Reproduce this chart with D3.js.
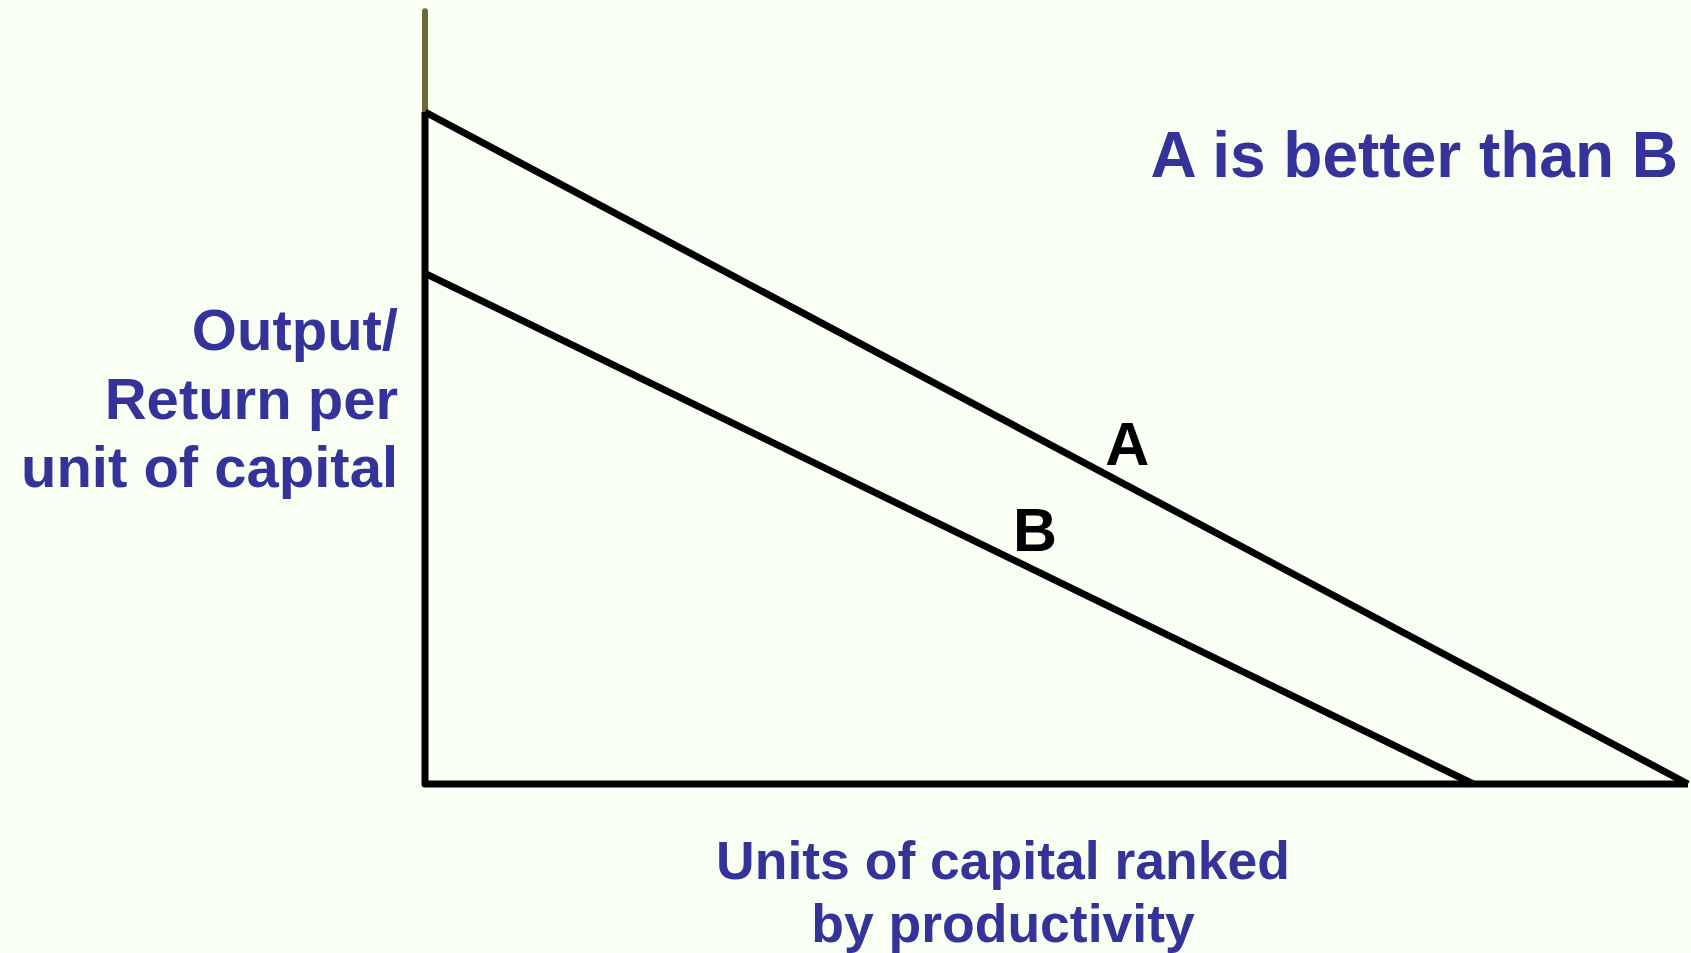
<!DOCTYPE html>
<html lang="en">
    <head>
        <meta charset="utf-8">
        <title>Returns to capital</title>
        <script type="text/javascript" src="https://cdn.jsdelivr.net/npm/d3@7"></script>
        <style type="text/css">
            body {
                margin: 0;
                background-color: #fafff4;
            }
            text {
                font-family: "Liberation Sans", Arial, Helvetica, sans-serif;
                font-weight: bold;
            }
        </style>
    </head>
    <body>
        <script type="text/javascript">
            //Data: two straight return curves, each given as [units of capital, return]
            var curveNames = ["A", "B"];
            var curveA = [[0, 100], [100, 0]];
            var curveB = [[0, 76], [83, 0]];
            var axisTop = 115;   //the vertical axis runs a bit above curve A

            var titleText = "A is better than B";
            var yLabelLines = ["Output/", "Return per", "unit of capital"];
            var xLabelLines = ["Units of capital ranked", "by productivity"];

            //Width and height
            var w = 1691;
            var h = 953;

            //Create scales
            var xScale = d3.scaleLinear()
                           .domain([0, 100])
                           .range([425, 1688]);

            var yScale = d3.scaleLinear()
                           .domain([0, 100])
                           .range([784, 112]);

            //Create SVG element
            var svg = d3.select("body")
                        .append("svg")
                        .attr("width", w)
                        .attr("height", h);

            svg.append("rect")
               .attr("width", w)
               .attr("height", h)
               .attr("fill", "#fafff4");

            var line = d3.line()
                         .x(function(d) { return xScale(d[0]); })
                         .y(function(d) { return yScale(d[1]); });

            //Olive stub at the top of the y axis
            svg.append("line")
               .attr("x1", xScale(0))
               .attr("x2", xScale(0))
               .attr("y1", yScale(axisTop))
               .attr("y2", yScale(100))
               .attr("stroke", "#6b6b3a")
               .attr("stroke-width", 6)
               .attr("stroke-linecap", "round");

            //Axes as one path: up the y axis, corner, along the x axis
            svg.append("path")
               .attr("d", line([[0, 100], [0, 0], [100, 0]]))
               .attr("fill", "none")
               .attr("stroke", "black")
               .attr("stroke-width", 7)
               .attr("stroke-linejoin", "round");

            //Curves
            svg.selectAll("path.curve")
               .data([curveA, curveB])
               .enter()
               .append("path")
               .attr("class", "curve")
               .attr("d", line)
               .attr("fill", "none")
               .attr("stroke", "black")
               .attr("stroke-width", 7);

            //Curve labels
            var labelPos = [[55.6, 47.5], [48.3, 34.6]];
            svg.selectAll("text.curve-label")
               .data(curveNames)
               .enter()
               .append("text")
               .attr("class", "curve-label")
               .attr("x", function(d, i) { return xScale(labelPos[i][0]); })
               .attr("y", function(d, i) { return yScale(labelPos[i][1]); })
               .attr("text-anchor", "middle")
               .attr("font-size", "61px")
               .attr("fill", "black")
               .text(function(d) { return d; });

            //Title
            svg.append("text")
               .attr("x", 1678)
               .attr("y", 177)
               .attr("text-anchor", "end")
               .attr("font-size", "64px")
               .attr("fill", "#333399")
               .text(titleText);

            //Y label
            svg.append("text")
               .attr("text-anchor", "end")
               .attr("font-size", "58px")
               .attr("fill", "#333399")
               .selectAll("tspan")
               .data(yLabelLines)
               .enter()
               .append("tspan")
               .attr("x", 398)
               .attr("y", function(d, i) { return 350 + i * 68.5; })
               .text(function(d) { return d; });

            //X label
            svg.append("text")
               .attr("text-anchor", "middle")
               .attr("font-size", "53.5px")
               .attr("fill", "#333399")
               .selectAll("tspan")
               .data(xLabelLines)
               .enter()
               .append("tspan")
               .attr("x", 1003)
               .attr("y", function(d, i) { return 879 + i * 63; })
               .text(function(d) { return d; });
        </script>
    </body>
</html>
